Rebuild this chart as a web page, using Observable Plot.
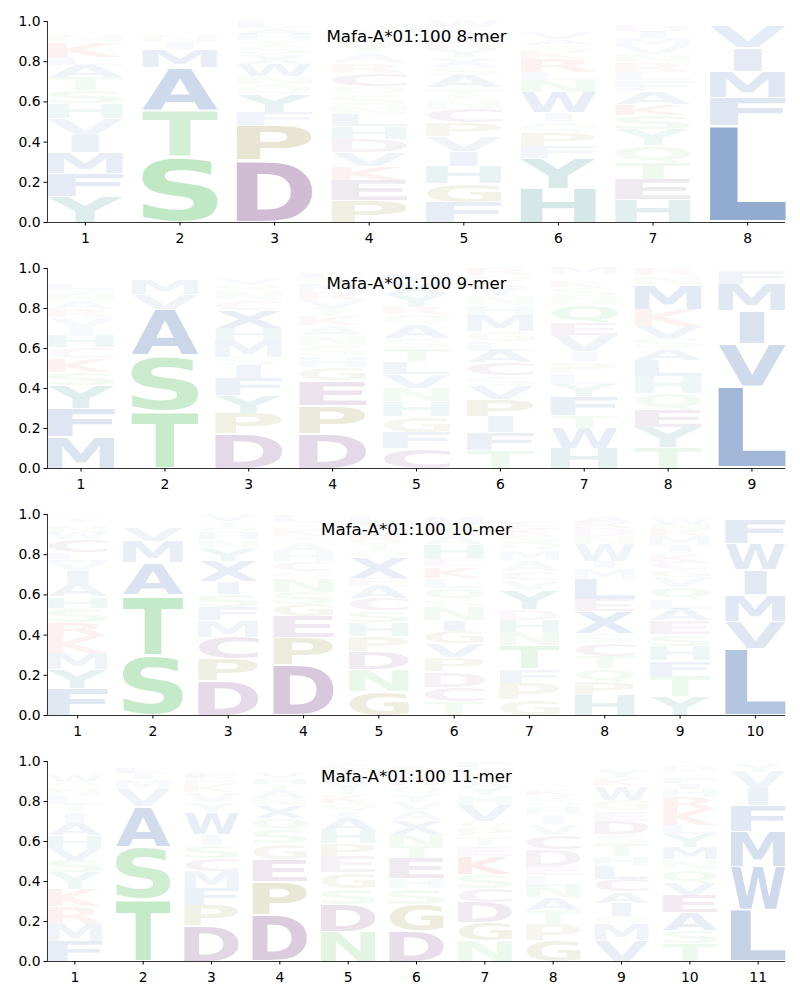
<!DOCTYPE html>
<html>
<head>
<meta charset="utf-8">
<script src="https://cdn.jsdelivr.net/npm/d3@7"></script>
<script src="https://cdn.jsdelivr.net/npm/@observablehq/plot@0.6"></script>
<style>
  body { margin: 0; background: #ffffff; }
  #chart svg { display: block; }
</style>
</head>
<body>
<div id="chart"></div>
<script>
// ---------------- DATA ----------------
// Each panel: list of positions; each position lists [residue, probability] from bottom to top.
const titles = ["Mafa-A*01:100 8-mer", "Mafa-A*01:100 9-mer", "Mafa-A*01:100 10-mer", "Mafa-A*01:100 11-mer"];
const yTicks = [0, 0.2, 0.4, 0.6, 0.8, 1.0];

const logo8 = [
  [["Y",.13],["F",.116],["M",.101],["I",.088],["V",.081],["H",.076],["S",.066],["T",.065],["A",.06],["L",.04],["K",.075],["N",.03],["R",.025],["W",.02],["Q",.015],["E",.01]],
  [["S",.324],["T",.233],["A",.216],["M",.09],["I",.035],["N",.03],["Q",.025],["V",.025],["L",.02]],
  [["D",.307],["P",.174],["F",.066],["Y",.09],["Q",.05],["N",.04],["W",.06],["X",.05],["S",.04],["T",.03],["H",.03],["A",.03],["L",.03]],
  [["P",.11],["E",.1],["K",.07],["V",.07],["D",.065],["H",.062],["L",.057],["N",.05],["S",.055],["Q",.04],["C",.066],["R",.05],["A",.04],["T",.04],["G",.03],["Y",.02],["M",.02]],
  [["F",.1],["G",.092],["H",.085],["I",.075],["V",.075],["P",.07],["C",.068],["N",.05],["T",.055],["A",.06],["S",.04],["X",.05],["Y",.04],["R",.03],["M",.03],["L",.03],["E",.02],["W",.03]],
  [["H",.17],["Y",.15],["F",.06],["P",.065],["Q",.053],["I",.05],["W",.1],["N",.06],["L",.04],["R",.065],["K",.04],["S",.03],["A",.03],["V",.03],["E",.02],["M",.02],["T",.017]],
  [["H",.112],["E",.1],["T",.085],["Q",.085],["Y",.08],["S",.07],["K",.057],["A",.063],["F",.055],["L",.04],["R",.05],["N",.04],["V",.04],["M",.04],["I",.03],["D",.03],["W",.013],["G",.01]],
  [["L",.482],["F",.141],["M",.13],["I",.117],["V",.11],["W",.01],["Y",.01]]
];

const logo9 = [
  [["M",.158],["F",.141],["Y",.116],["S",.065],["K",.07],["C",.055],["H",.058],["I",.04],["V",.055],["R",.04],["A",.04],["N",.03],["T",.03],["L",.03],["Q",.02],["E",.012],["W",.02],["G",.02]],
  [["T",.287],["S",.277],["A",.233],["V",.075],["M",.075],["I",.02],["L",.02],["F",.01]],
  [["D",.174],["P",.1],["Y",.09],["F",.085],["I",.068],["S",.04],["M",.085],["H",.06],["X",.09],["C",.05],["N",.05],["Q",.03],["V",.03],["E",.02],["A",.02]],
  [["D",.174],["P",.14],["E",.125],["G",.065],["H",.055],["S",.055],["N",.05],["A",.05],["K",.05],["T",.04],["V",.04],["R",.04],["M",.04],["Q",.03],["L",.03],["Y",.016]],
  [["C",.1],["F",.08],["G",.08],["H",.075],["N",.065],["V",.07],["L",.06],["T",.07],["S",.05],["A",.07],["Q",.05],["R",.04],["Y",.06],["X",.06],["M",.04],["E",.02],["W",.01]],
  [["T",.09],["F",.09],["I",.08],["P",.085],["V",.068],["S",.05],["C",.065],["A",.06],["L",.05],["G",.05],["M",.08],["H",.05],["N",.05],["Y",.04],["K",.03],["Q",.03],["R",.03]],
  [["H",.1],["W",.1],["T",.065],["F",.095],["Y",.06],["L",.055],["P",.055],["I",.055],["V",.08],["E",.06],["Q",.095],["N",.04],["S",.04],["K",.03],["A",.02],["R",.02],["M",.03]],
  [["T",.105],["Y",.1],["E",.09],["Q",.08],["H",.085],["L",.08],["A",.058],["S",.055],["V",.058],["K",.085],["M",.12],["N",.05],["R",.03]],
  [["L",.412],["V",.211],["I",.166],["M",.133],["F",.066],["Y",.012]]
];

const logo10 = [
  [["F",.135],["Y",.095],["M",.08],["K",.085],["R",.07],["S",.068],["H",.057],["A",.068],["I",.06],["V",.045],["L",.05],["C",.065],["W",.03],["N",.03],["Q",.02],["T",.03],["E",.01]],
  [["S",.3],["T",.3],["A",.16],["M",.105],["V",.068],["I",.02],["L",.02],["F",.017],["Y",.01]],
  [["D",.17],["P",.11],["C",.11],["M",.083],["F",.066],["S",.066],["I",.06],["X",.1],["Y",.06],["N",.05],["H",.03],["Q",.03],["T",.03],["V",.03]],
  [["D",.25],["P",.137],["E",.105],["G",.06],["S",.06],["N",.065],["Q",.04],["C",.05],["H",.045],["A",.05],["T",.03],["K",.03],["R",.02],["V",.02],["L",.03]],
  [["G",.12],["N",.11],["D",.09],["P",.075],["H",.07],["S",.058],["C",.06],["A",.06],["E",.04],["X",.1],["Q",.04],["T",.04],["R",.03],["V",.03],["Y",.03],["L",.03],["F",.02]],
  [["T",.07],["C",.072],["D",.075],["P",.07],["V",.07],["G",.06],["I",.057],["N",.065],["S",.035],["Q",.06],["L",.05],["K",.057],["E",.04],["H",.07],["A",.04],["R",.03],["Y",.03],["M",.03],["F",.02]],
  [["G",.078],["P",.083],["F",.07],["T",.12],["N",.065],["H",.06],["D",.053],["Y",.095],["V",.05],["C",.045],["A",.055],["M",.045],["Q",.04],["S",.04],["K",.03],["E",.03],["R",.02],["L",.02]],
  [["H",.1],["P",.065],["Q",.07],["T",.06],["C",.063],["S",.05],["X",.11],["E",.06],["L",.1],["M",.055],["I",.035],["W",.085],["N",.04],["D",.04],["R",.03],["A",.03]],
  [["Y",.097],["T",.1],["F",.075],["H",.072],["S",.058],["E",.07],["A",.058],["L",.05],["Q",.058],["V",.052],["G",.035],["C",.04],["K",.04],["I",.042],["M",.045],["R",.03],["N",.03],["W",.026],["D",.02]],
  [["L",.332],["V",.137],["M",.13],["I",.125],["W",.13],["F",.12],["Y",.015]]
];

const logo11 = [
  [["F",.1],["M",.085],["R",.088],["K",.085],["Y",.085],["S",.065],["V",.06],["H",.06],["A",.062],["I",.055],["T",.04],["L",.04],["N",.04],["Q",.03],["W",.03],["C",.02],["E",.02],["G",.02],["P",.015]],
  [["T",.312],["S",.26],["A",.204],["V",.085],["M",.05],["I",.03],["L",.03],["F",.025]],
  [["D",.18],["P",.1],["F",.085],["M",.087],["C",.065],["S",.065],["I",.055],["W",.11],["Y",.05],["V",.05],["K",.04],["N",.03],["E",.03],["H",.02],["Q",.02]],
  [["D",.232],["P",.166],["E",.11],["G",.08],["S",.07],["Q",.06],["X",.06],["N",.04],["A",.04],["T",.03],["H",.03],["V",.03],["R",.02],["L",.02]],
  [["N",.15],["D",.137],["S",.08],["G",.08],["E",.08],["P",.065],["H",.065],["A",.065],["I",.03],["Q",.04],["K",.04],["T",.04],["V",.03],["Y",.03],["R",.03],["C",.03]],
  [["D",.15],["G",.135],["S",.08],["H",.05],["E",.1],["T",.06],["N",.06],["X",.07],["A",.05],["V",.04],["Y",.04],["Q",.04],["R",.04],["L",.03],["P",.03],["M",.02]],
  [["N",.105],["G",.09],["D",.1],["C",.07],["S",.07],["K",.09],["E",.05],["T",.05],["P",.04],["Q",.035],["V",.08],["H",.05],["Y",.04],["A",.03],["R",.02],["L",.02],["M",.03],["F",.03]],
  [["G",.105],["P",.08],["T",.07],["A",.065],["N",.058],["L",.055],["E",.045],["D",.08],["C",.072],["V",.055],["I",.05],["H",.035],["Q",.03],["S",.03],["K",.03],["Y",.02],["R",.02]],
  [["V",.105],["M",.08],["Q",.04],["I",.065],["A",.058],["C",.065],["L",.065],["H",.05],["T",.06],["S",.05],["D",.065],["E",.05],["G",.055],["W",.07],["K",.04],["Y",.04],["R",.02],["N",.02]],
  [["T",.09],["S",.065],["A",.092],["E",.085],["V",.06],["Q",.065],["N",.055],["M",.058],["Y",.065],["L",.045],["K",.08],["R",.06],["H",.04],["I",.03],["F",.03],["C",.02],["G",.01],["D",.03],["W",.02]],
  [["L",.257],["W",.216],["M",.175],["F",.13],["I",.085],["V",.085],["Y",.04]]
];

// ---------------- STYLE ----------------
const groupColor = {
  hydrophobic: "#1e50a0",
  polar: "#40b84c",
  acidic: "#64236e",
  small: "#786e00",
  aromatic: "#0a7070",
  basic: "#d83a3a"
};
const letterGroup = {
  A: "hydrophobic", V: "hydrophobic", L: "hydrophobic", I: "hydrophobic", M: "hydrophobic", F: "hydrophobic", W: "hydrophobic", X: "hydrophobic",
  S: "polar", T: "polar", N: "polar", Q: "polar",
  D: "acidic", E: "acidic", C: "acidic",
  P: "small", G: "small",
  H: "aromatic", Y: "aromatic",
  K: "basic", R: "basic"
};
const FONT = "DejaVu Sans";
const LETTER_W = 0.8;     // glyph width in position units
const NARROW_I = 0.37;    // "I" is not stretched as much as other glyphs
const VPAD = 0.05;        // vertical padding fraction of each glyph slot
const X_PAD = 0.4;        // x-axis extends 0.4 units beyond first/last position
const panelHeights = [247, 246, 247, 246];

// ink extents of glyphs, measured from the installed font
const ctx = document.createElement("canvas").getContext("2d");
ctx.font = `bold 100px "${FONT}"`;
const inkCache = {};
function inkBox(ch) {
  if (!inkCache[ch]) {
    const m = ctx.measureText(ch);
    inkCache[ch] = {l: -m.actualBoundingBoxLeft, r: m.actualBoundingBoxRight, t: -m.actualBoundingBoxAscent, b: m.actualBoundingBoxDescent};
  }
  return inkCache[ch];
}

function drawPanel(columns, title, height) {
  const n = columns.length;
  const rows = [];
  columns.forEach((col, i) => {
    let y = 0;
    for (const [letter, p] of col) {
      rows.push({pos: i + 1, letter, p, y0: y, y1: y + p});
      y += p;
    }
  });
  const halfW = d => LETTER_W / 2 * (d.letter === "I" ? NARROW_I : 1);
  const pad = d => VPAD * d.p / 2;
  const xLo = 1 - X_PAD, xHi = n + X_PAD;

  const svg = Plot.plot({
    width: 800,
    height,
    marginLeft: 47, marginRight: 15, marginTop: 21, marginBottom: 25,
    style: {fontFamily: FONT, fontSize: "13.9px", color: "black", background: "white", overflow: "visible"},
    x: {domain: [xLo, xHi], ticks: d3.range(1, n + 1), tickFormat: d3.format("d"), tickSize: 3.5, tickPadding: 7.5, label: null},
    y: {domain: [0, 1], ticks: yTicks, tickFormat: d3.format(".1f"), tickSize: 3.5, tickPadding: 3.5, label: null},
    opacity: {type: "identity"},
    marks: [
      Plot.rect(rows, {
        x1: d => d.pos - halfW(d), x2: d => d.pos + halfW(d),
        y1: d => d.y0 + pad(d), y2: d => d.y1 - pad(d),
        fill: "none", stroke: "none"
      }),
      Plot.text(rows, {
        x: "pos", y: d => (d.y0 + d.y1) / 2, text: "letter",
        fill: d => groupColor[letterGroup[d.letter]], fillOpacity: "p",
        fontSize: 100, fontWeight: "bold", fontFamily: FONT
      }),
      Plot.ruleX([xLo], {stroke: "black", strokeWidth: 0.8}),
      Plot.ruleY([0], {stroke: "black", strokeWidth: 0.8}),
      Plot.text([title], {text: d => d, frameAnchor: "top", lineAnchor: "top", dy: 8.8, fontSize: 16.7, fill: "black", fontFamily: FONT})
    ]
  });

  // fit each glyph's ink box into its rect (computed by Plot's scales)
  const rects = svg.querySelectorAll('g[aria-label="rect"] rect');
  const letterGroupEl = svg.querySelectorAll('g[aria-label="text"]')[0];
  const texts = letterGroupEl.querySelectorAll("text");
  texts.forEach((t, i) => {
    const r = rects[i];
    if (!r) return;
    const x = +r.getAttribute("x"), y = +r.getAttribute("y");
    const w = +r.getAttribute("width"), h = +r.getAttribute("height");
    const b = inkBox(rows[i].letter);
    const sx = w / (b.r - b.l), sy = h / (b.b - b.t);
    t.setAttribute("transform", `translate(${x - b.l * sx},${y - b.t * sy}) scale(${sx},${sy})`);
    t.setAttribute("x", 0);
    t.setAttribute("y", 0);
    t.removeAttribute("dy");
    t.setAttribute("text-anchor", "start");
  });
  return svg;
}

const chart = document.getElementById("chart");
[logo8, logo9, logo10, logo11].forEach((cols, k) => {
  chart.appendChild(drawPanel(cols, titles[k], panelHeights[k]));
});
</script>
</body>
</html>
